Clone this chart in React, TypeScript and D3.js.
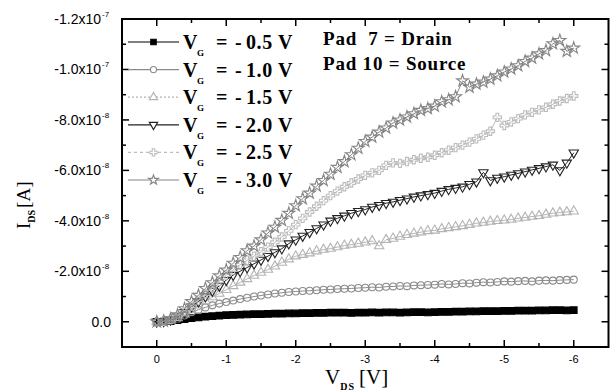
import React from 'react';
import * as d3 from 'd3';

// Drain-source voltage V_DS [V]
const vds = [
  0, -0.1, -0.2, -0.3, -0.4, -0.5, -0.6, -0.7, -0.8, -0.9,
  -1.0, -1.1, -1.2, -1.3, -1.4, -1.5, -1.6, -1.7, -1.8, -1.9,
  -2.0, -2.1, -2.2, -2.3, -2.4, -2.5, -2.6, -2.7, -2.8, -2.9,
  -3.0, -3.1, -3.2, -3.3, -3.4, -3.5, -3.6, -3.7, -3.8, -3.9,
  -4.0, -4.1, -4.2, -4.3, -4.4, -4.5, -4.6, -4.7, -4.8, -4.9,
  -5.0, -5.1, -5.2, -5.3, -5.4, -5.5, -5.6, -5.7, -5.8, -5.9,
  -6.0,
];

// I_DS in units of 1e-8 A
const idsVg05 = [
  0, -0.01, -0.03, -0.06, -0.1, -0.14, -0.17, -0.2, -0.22, -0.24,
  -0.26, -0.27, -0.28, -0.29, -0.3, -0.3, -0.31, -0.32, -0.32, -0.33,
  -0.33, -0.34, -0.34, -0.35, -0.35, -0.36, -0.36, -0.36, -0.35, -0.36,
  -0.36, -0.37, -0.36, -0.37, -0.37, -0.36, -0.37, -0.38, -0.38, -0.37,
  -0.38, -0.39, -0.39, -0.4, -0.4, -0.41, -0.41, -0.42, -0.42, -0.42,
  -0.43, -0.43, -0.44, -0.44, -0.44, -0.45, -0.45, -0.46, -0.46, -0.45,
  -0.46,
];
const idsVg10 = [
  0, -0.02, -0.05, -0.12, -0.25, -0.38, -0.48, -0.57, -0.65, -0.72,
  -0.78, -0.84, -0.9, -0.95, -1.0, -1.04, -1.08, -1.12, -1.15, -1.18,
  -1.2, -1.22, -1.23, -1.25, -1.27, -1.28, -1.3, -1.31, -1.32, -1.34,
  -1.35, -1.37, -1.36, -1.39, -1.4, -1.42, -1.41, -1.44, -1.45, -1.46,
  -1.47, -1.5, -1.48, -1.5, -1.53, -1.52, -1.55, -1.57, -1.56, -1.58,
  -1.6, -1.59, -1.61, -1.62, -1.6, -1.63, -1.64, -1.63, -1.65, -1.66,
  -1.67,
];
const idsVg15 = [
  0, -0.02, -0.06, -0.15, -0.3, -0.48, -0.65, -0.82, -0.98, -1.12,
  -1.27, -1.42, -1.56, -1.7, -1.83, -1.95, -2.07, -2.2, -2.35, -2.48,
  -2.6, -2.66, -2.72, -2.8, -2.86, -2.9, -2.96, -3.02, -3.06, -3.1,
  -3.15, -3.2, -3.0, -3.25, -3.3, -3.38, -3.45, -3.5, -3.55, -3.6,
  -3.62, -3.68, -3.72, -3.76, -3.8, -3.85, -3.9, -3.93, -3.97, -4.0,
  -4.02, -4.05, -4.1, -4.13, -4.17, -4.2, -4.25, -4.3, -4.33, -4.35,
  -4.38,
];
const idsVg20 = [
  0, -0.02, -0.08, -0.2, -0.38, -0.6, -0.8, -1.0, -1.22, -1.42,
  -1.65, -1.85, -2.0, -2.15, -2.3, -2.45, -2.6, -2.75, -2.9, -3.1,
  -3.25, -3.4, -3.55, -3.7, -3.85, -4.0, -4.1, -4.2, -4.3, -4.38,
  -4.45, -4.55, -4.62, -4.7, -4.75, -4.82, -4.88, -4.95, -5.0, -5.05,
  -5.1, -5.18, -5.25, -5.3, -5.35, -5.45, -5.55, -5.92, -5.6, -5.7,
  -5.75, -5.82, -5.88, -5.95, -6.02, -6.08, -6.15, -6.22, -6.0, -6.3,
  -6.7,
];
const idsVg25 = [
  0, -0.02, -0.09, -0.22, -0.4, -0.62, -0.86, -1.1, -1.36, -1.6,
  -1.85, -2.05, -2.26, -2.44, -2.6, -2.78, -2.96, -3.15, -3.36, -3.6,
  -3.85, -4.1, -4.35, -4.58, -4.8, -5.0, -5.18, -5.35, -5.5, -5.66,
  -5.8, -5.9, -6.0, -6.2, -6.3, -6.28, -6.35, -6.42, -6.48, -6.52,
  -6.6, -6.7, -6.8, -6.9, -7.0, -7.12, -7.25, -7.4, -7.55, -8.1,
  -7.78, -7.92, -8.05, -8.2, -8.3, -8.4, -8.5, -8.62, -8.75, -8.85,
  -8.95,
];
const idsVg30 = [
  0, -0.03, -0.12, -0.28, -0.52, -0.8, -1.05, -1.32, -1.55, -1.82,
  -2.05, -2.32, -2.55, -2.82, -3.0, -3.25, -3.52, -3.75, -4.02, -4.3,
  -4.6, -4.88, -5.1, -5.38, -5.6, -5.85, -6.12, -6.35, -6.62, -6.88,
  -7.15, -7.32, -7.52, -7.68, -7.88, -8.0, -8.12, -8.25, -8.38, -8.45,
  -8.55, -8.72, -8.8, -8.92, -9.55, -9.3, -9.42, -9.5, -9.62, -9.75,
  -9.9, -10.02, -10.15, -10.32, -10.45, -10.62, -10.75, -11.02, -11.15, -10.72,
  -10.85,
];

const seriesLabels = ['0.5 V', '1.0 V', '1.5 V', '2.0 V', '2.5 V', '3.0 V'];
const seriesValues = [idsVg05, idsVg10, idsVg15, idsVg20, idsVg25, idsVg30];

const xTicks = [0, -1, -2, -3, -4, -5, -6];
const xMinor = [-0.5, -1.5, -2.5, -3.5, -4.5, -5.5];
const yTicks = [0, -2, -4, -6, -8, -10, -12];
const yTickMant = ['0.0', '-2.0x10', '-4.0x10', '-6.0x10', '-8.0x10', '-1.0x10', '-1.2x10'];
const yTickExp = ['', '-8', '-8', '-8', '-8', '-7', '-7'];
const yMinor = [-1, -3, -5, -7, -9, -11];

const styles = [
  { color: '#000', symbol: d3.symbolSquare, fill: '#000', size: 44, dash: '' },
  { color: '#8a8a8a', symbol: d3.symbolCircle, fill: 'none', size: 38, dash: '' },
  { color: '#b4b4b4', symbol: d3.symbolTriangle, fill: 'none', size: 38, dash: '2,2' },
  { color: '#222', symbol: d3.symbolTriangle, fill: 'none', size: 38, dash: '', rotate: 180 },
  { color: '#bcbcbc', symbol: d3.symbolCross, fill: 'none', size: 38, dash: '3,3' },
  { color: '#858585', symbol: d3.symbolStar, fill: 'none', size: 44, dash: '' },
];

const W = 611, H = 392;
const L = 122, R = 608.5, T = 19, B = 347;

export default function App() {
  const x = d3.scaleLinear().domain([0.5, -6.5]).range([L, R]);
  const y = d3.scaleLinear().domain([1, -12]).range([B, T]);
  const line = d3.line<[number, number]>().x(d => x(d[0])).y(d => y(d[1]));
  const serif = '"Liberation Serif", "DejaVu Serif", serif';
  const sans = '"Liberation Sans", Arial, sans-serif';
  const legY0 = 42, legDy = 27.6;

  return (
    <svg width={W} height={H} style={{ position: 'absolute', left: 0, top: 0, background: '#fff' }}>
      <rect x={0} y={0} width={W} height={H} fill="#fff" />
      {/* data */}
      <g>
        {seriesValues.map((vals, si) => {
          const st = styles[si];
          const pts: [number, number][] = vds.map((v, i) => [v, vals[i]]);
          const sym = d3.symbol().type(st.symbol).size(st.size)();
          return (
            <g key={si}>
              <path d={line(pts) || ''} fill="none" stroke={st.color} strokeWidth={1} />
              {pts.map((p, i) => (
                <path key={i} d={sym || ''}
                  transform={`translate(${x(p[0])},${y(p[1])})${st.rotate ? ` rotate(${st.rotate})` : ''}`}
                  fill={st.fill === 'none' ? 'none' : st.fill} stroke={st.color} strokeWidth={1.1} />
              ))}
            </g>
          );
        })}
      </g>
      {/* frame */}
      <rect x={L} y={T} width={R - L} height={B - T} fill="none" stroke="#000" strokeWidth={2} />
      {/* x ticks */}
      {xTicks.map(t => (
        <g key={'xt' + t}>
          <line x1={x(t)} x2={x(t)} y1={B} y2={B - 7} stroke="#000" strokeWidth={1.5} />
          <line x1={x(t)} x2={x(t)} y1={T} y2={T + 7} stroke="#000" strokeWidth={1.5} />
          <text x={x(t)} y={363} textAnchor="middle" fontFamily={sans} fontSize={11} fill="#000">{t === 0 ? '0' : `-${-t}`}</text>
        </g>
      ))}
      {xMinor.map(t => (
        <g key={'xm' + t}>
          <line x1={x(t)} x2={x(t)} y1={B} y2={B - 4} stroke="#000" strokeWidth={1.5} />
          <line x1={x(t)} x2={x(t)} y1={T} y2={T + 4} stroke="#000" strokeWidth={1.5} />
        </g>
      ))}
      {/* y ticks */}
      {yTicks.map((t, i) => (
        <g key={'yt' + t}>
          <line x1={L} x2={L + 7} y1={y(t)} y2={y(t)} stroke="#000" strokeWidth={1.5} />
          <line x1={R} x2={R - 7} y1={y(t)} y2={y(t)} stroke="#000" strokeWidth={1.5} />
          <text x={yTickExp[i] ? 101 : 111} y={y(t) + 5} textAnchor="end" fontFamily={sans} fontSize={14} fill="#000">{yTickMant[i]}</text>
          {yTickExp[i] && (
            <text x={102} y={y(t) - 2} fontFamily={sans} fontSize={8} fill="#000">{yTickExp[i]}</text>
          )}
        </g>
      ))}
      {yMinor.map(t => (
        <g key={'ym' + t}>
          <line x1={L} x2={L + 4} y1={y(t)} y2={y(t)} stroke="#000" strokeWidth={1.5} />
          <line x1={R} x2={R - 4} y1={y(t)} y2={y(t)} stroke="#000" strokeWidth={1.5} />
        </g>
      ))}
      {/* axis titles */}
      <text x={325} y={384} fontFamily={serif} fontSize={21} fill="#000">
        V<tspan fontSize={10} fontWeight="bold" dy={6} letterSpacing={1}>DS</tspan>
        <tspan dy={-6} dx={4}>[V]</tspan>
      </text>
      <text transform="translate(30,229) rotate(-90)" fontFamily={serif} fontSize={19} fill="#000">
        I<tspan fontSize={10} fontWeight="bold" dy={5}>DS</tspan>
        <tspan dy={-5} dx={2}>[A]</tspan>
      </text>
      {/* legend */}
      {seriesLabels.map((lab, i) => {
        const st = styles[i];
        const ly = legY0 + i * legDy;
        const sym = d3.symbol().type(st.symbol).size(30)();
        return (
          <g key={'lg' + i}>
            <line x1={128} x2={179} y1={ly} y2={ly} stroke={st.color} strokeWidth={1.2} strokeDasharray={st.dash} />
            <path d={sym || ''} transform={`translate(153.5,${ly})${st.rotate ? ` rotate(${st.rotate})` : ''}`}
              fill={st.fill === 'none' ? '#fff' : st.fill} stroke={st.color} strokeWidth={1.1} />
            <text x={183} y={ly + 7} fontFamily={serif} fontSize={20} fontWeight="bold" fill="#000">V</text>
            <text x={197} y={ly + 14} fontFamily={serif} fontSize={9} fontWeight="bold" fill="#000">G</text>
            <text x={216} y={ly + 7} fontFamily={serif} fontSize={20} fontWeight="bold" fill="#000">=</text>
            <text x={235} y={ly + 7} fontFamily={serif} fontSize={20} fontWeight="bold" fill="#000">-</text>
            <text x={246} y={ly + 7} fontFamily={serif} fontSize={20} fontWeight="bold" fill="#000" letterSpacing={0.6}>{lab}</text>
          </g>
        );
      })}
      <text x={323} y={45} fontFamily={serif} fontSize={19} fontWeight="bold" fill="#000" letterSpacing={0.8} style={{ whiteSpace: 'pre' }}>{'Pad  7 = Drain'}</text>
      <text x={323} y={70} fontFamily={serif} fontSize={19} fontWeight="bold" fill="#000" letterSpacing={0.8} style={{ whiteSpace: 'pre' }}>{'Pad 10 = Source'}</text>
    </svg>
  );
}
